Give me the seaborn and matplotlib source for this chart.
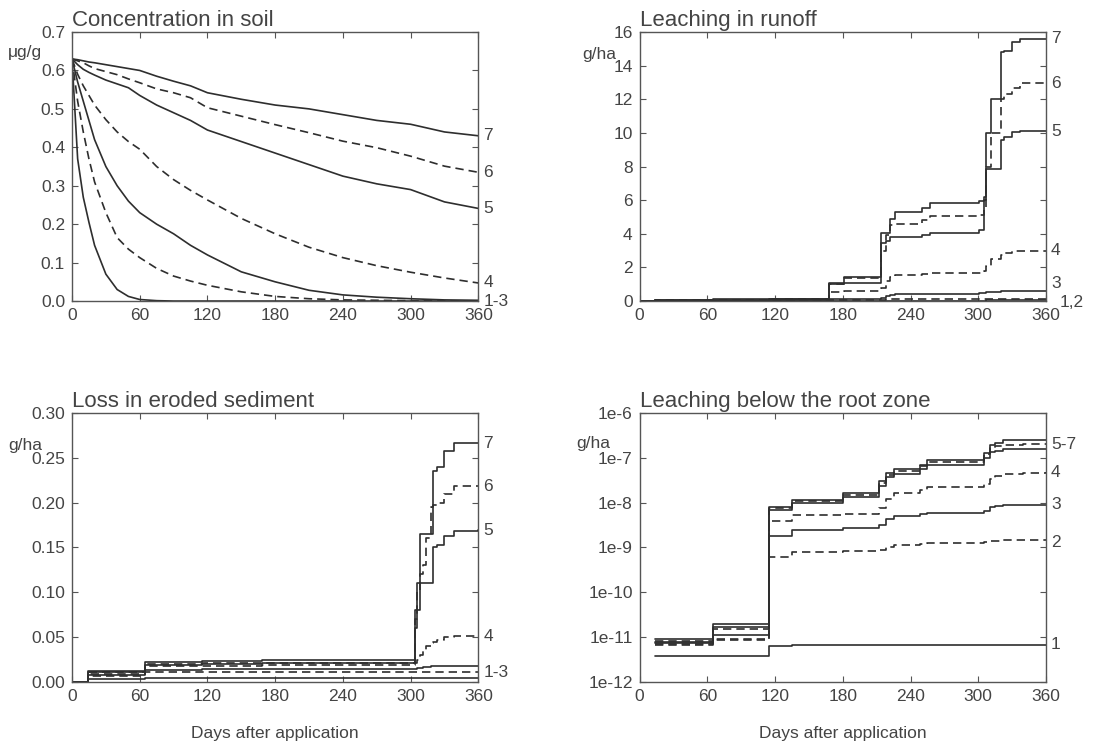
import matplotlib
matplotlib.use("Agg")
import matplotlib.pyplot as plt
import matplotlib.transforms as mtransforms
from matplotlib.ticker import FuncFormatter, FixedLocator, NullLocator
import numpy as np
import pandas as pd
import seaborn as sns

# --- Concentration in soil (ug/g), smooth decay curves ---
soil_days = [0, 5, 10, 15, 20, 30, 40, 50, 60, 75, 90, 105, 120, 150, 180, 210, 240, 270, 300, 330, 360]
soil = {
    "1": [0.63, 0.37, 0.27, 0.205, 0.145, 0.07, 0.03, 0.012, 0.004, 0.001, 0, 0, 0, 0, 0, 0, 0, 0, 0, 0, 0],
    "2": [0.63, 0.52, 0.44, 0.37, 0.31, 0.23, 0.165, 0.135, 0.113, 0.085, 0.065, 0.052, 0.041, 0.024, 0.012,
          0.006, 0.003, 0.002, 0.001, 0.0005, 0.0],
    "3": [0.63, 0.57, 0.52, 0.47, 0.42, 0.35, 0.30, 0.26, 0.23, 0.20, 0.175, 0.145, 0.12, 0.076, 0.05,
          0.028, 0.016, 0.01, 0.006, 0.003, 0.002],
    "4": [0.63, 0.59, 0.56, 0.535, 0.51, 0.472, 0.44, 0.415, 0.395, 0.35, 0.316, 0.288, 0.263, 0.215, 0.175,
          0.14, 0.113, 0.092, 0.075, 0.06, 0.047],
    "5": [0.63, 0.615, 0.603, 0.595, 0.588, 0.575, 0.565, 0.555, 0.535, 0.51, 0.49, 0.47, 0.445, 0.415, 0.385,
          0.355, 0.325, 0.305, 0.29, 0.258, 0.241],
    "6": [0.63, 0.625, 0.62, 0.612, 0.605, 0.597, 0.589, 0.578, 0.568, 0.552, 0.542, 0.529, 0.503, 0.481, 0.459,
          0.438, 0.416, 0.399, 0.377, 0.351, 0.335],
    "7": [0.63, 0.628, 0.625, 0.622, 0.62, 0.615, 0.61, 0.605, 0.60, 0.585, 0.572, 0.56, 0.542, 0.525, 0.51,
          0.50, 0.485, 0.47, 0.46, 0.44, 0.43],
}

# --- Leaching in runoff (g/ha), cumulative steps ---
runoff_days = [0, 14, 65, 115, 168, 181, 214, 218, 222, 226, 250, 257, 301, 305, 307, 311, 320, 323, 330, 337, 360]
runoff = {
    "1": [0, 0, 0.01, 0.01, 0.02, 0.02, 0.03, 0.03, 0.03, 0.03, 0.03, 0.03, 0.03, 0.03, 0.04, 0.04, 0.04, 0.04, 0.04, 0.04, 0.04],
    "2": [0, 0.01, 0.02, 0.03, 0.06, 0.07, 0.09, 0.10, 0.10, 0.11, 0.11, 0.11, 0.11, 0.12, 0.13, 0.14, 0.15, 0.15, 0.15, 0.15, 0.15],
    "3": [0, 0.01, 0.03, 0.05, 0.12, 0.13, 0.20, 0.30, 0.35, 0.40, 0.42, 0.43, 0.45, 0.48, 0.52, 0.55, 0.58, 0.60, 0.60, 0.60, 0.60],
    "4": [0, 0.02, 0.05, 0.07, 0.55, 0.60, 0.80, 1.20, 1.45, 1.55, 1.60, 1.65, 1.65, 1.80, 2.10, 2.50, 2.75, 2.85, 2.95, 3.0, 3.0],
    "5": [0, 0.04, 0.08, 0.12, 1.00, 1.10, 3.48, 3.60, 3.78, 3.78, 3.95, 4.07, 4.20, 6.00, 7.85, 7.85, 9.60, 9.75, 10.04, 10.10, 10.10],
    "6": [0, 0.04, 0.09, 0.13, 1.00, 1.35, 3.00, 3.90, 4.50, 4.57, 4.80, 5.05, 5.10, 5.45, 8.0, 10.0, 12.0, 12.3, 12.7, 12.95, 12.95],
    "7": [0, 0.05, 0.10, 0.15, 1.10, 1.45, 4.05, 4.05, 4.90, 5.27, 5.55, 5.85, 5.95, 6.20, 10.0, 12.0, 14.8, 14.9, 15.4, 15.6, 15.6],
}

# --- Loss in eroded sediment (g/ha) ---
sediment_days = [0, 14, 65, 115, 168, 304, 306, 308, 311, 314, 318, 320, 323, 330, 338, 360]
sediment = {
    "1": [0, 0.003, 0.004, 0.004, 0.004, 0.004, 0.004, 0.004, 0.004, 0.004, 0.004, 0.004, 0.004, 0.004, 0.004, 0.004],
    "2": [0, 0.007, 0.011, 0.011, 0.011, 0.011, 0.011, 0.011, 0.011, 0.011, 0.011, 0.011, 0.011, 0.011, 0.011, 0.011],
    "3": [0, 0.008, 0.013, 0.014, 0.015, 0.015, 0.016, 0.016, 0.017, 0.017, 0.018, 0.018, 0.018, 0.018, 0.018, 0.018],
    "4": [0, 0.009, 0.018, 0.018, 0.019, 0.021, 0.025, 0.030, 0.035, 0.040, 0.043, 0.045, 0.047, 0.050, 0.051, 0.051],
    "5": [0, 0.011, 0.019, 0.020, 0.021, 0.060, 0.080, 0.110, 0.110, 0.110, 0.110, 0.150, 0.153, 0.163, 0.168, 0.169],
    "6": [0, 0.011, 0.020, 0.021, 0.021, 0.070, 0.100, 0.120, 0.130, 0.160, 0.195, 0.197, 0.200, 0.210, 0.218, 0.218],
    "7": [0, 0.012, 0.022, 0.023, 0.025, 0.080, 0.110, 0.165, 0.165, 0.165, 0.165, 0.235, 0.240, 0.258, 0.266, 0.266],
}

# --- Leaching below the root zone (g/ha, log scale) ---
root_days = [14, 65, 115, 135, 180, 212, 218, 225, 248, 255, 305, 310, 315, 322, 340, 360]
root = {
    "1": [3.7e-12, 3.7e-12, 6.4e-12, 6.8e-12, 6.8e-12, 6.8e-12, 6.8e-12, 6.8e-12, 6.8e-12, 6.8e-12,
          6.8e-12, 6.8e-12, 6.8e-12, 6.8e-12, 6.8e-12, 6.8e-12],
    "2": [6.6e-12, 8.5e-12, 6.2e-10, 8.0e-10, 8.4e-10, 9.0e-10, 1.05e-9, 1.15e-9, 1.2e-9, 1.27e-9,
          1.32e-9, 1.40e-9, 1.43e-9, 1.45e-9, 1.45e-9, 1.45e-9],
    "3": [7.5e-12, 1.1e-11, 1.8e-9, 2.4e-9, 2.7e-9, 3.2e-9, 4.4e-9, 5.0e-9, 5.5e-9, 6.0e-9,
          6.5e-9, 7.8e-9, 8.3e-9, 8.8e-9, 9.0e-9, 9.0e-9],
    "4": [7.0e-12, 9.2e-12, 3.9e-9, 5.3e-9, 5.6e-9, 7.5e-9, 1.2e-8, 1.6e-8, 1.9e-8, 2.2e-8,
          2.6e-8, 3.4e-8, 3.9e-8, 4.3e-8, 4.6e-8, 4.7e-8],
    "5": [7.6e-12, 1.7e-11, 6.8e-9, 1.0e-8, 1.35e-8, 2.4e-8, 3.8e-8, 4.3e-8, 5.5e-8, 6.8e-8,
          1.0e-7, 1.35e-7, 1.45e-7, 1.55e-7, 1.6e-7, 1.6e-7],
    "6": [8.2e-12, 1.5e-11, 7.4e-9, 1.1e-8, 1.5e-8, 2.7e-8, 4.2e-8, 5.2e-8, 6.5e-8, 7.9e-8,
          1.2e-7, 1.65e-7, 1.8e-7, 1.95e-7, 2.0e-7, 2.0e-7],
    "7": [9.3e-12, 2.0e-11, 8.0e-9, 1.15e-8, 1.6e-8, 3.0e-8, 4.5e-8, 5.7e-8, 7.0e-8, 8.8e-8,
          1.3e-7, 1.9e-7, 2.1e-7, 2.45e-7, 2.5e-7, 2.5e-7],
}

# end-of-line labels: (text, series whose last value anchors it)
soil_labels = [("7", "7"), ("6", "6"), ("5", "5"), ("4", "4"), ("1-3", "2")]
runoff_labels = [("7", "7"), ("6", "6"), ("5", "5"), ("4", "4"), ("3", "3"), ("1,2", "1")]
sediment_labels = [("7", "7"), ("6", "6"), ("5", "5"), ("4", "4"), ("1-3", "2")]
root_labels = [("5-7", "6"), ("4", "4"), ("3", "3"), ("2", "2"), ("1", "1")]

LINE = "#2e2e2e"
TEXT = "#444444"
SERIES = [str(i) for i in range(1, 8)]


def long_frame(days, series):
    rows = []
    for name, vals in series.items():
        for d, v in zip(days, vals):
            rows.append({"day": d, "value": v, "series": name})
    return pd.DataFrame(rows)


def draw_panel(ax, days, series, labels, title, unit, unit_pos, steps, fmt,
               label_offsets=None, label_dx=None):
    df = long_frame(days, series)
    palette = {s: LINE for s in SERIES}
    dashes = {s: ("" if int(s) % 2 else (5, 3)) for s in SERIES}
    sns.lineplot(data=df, x="day", y="value", hue="series", style="series",
                 palette=palette, dashes=dashes, estimator=None, legend=False,
                 linewidth=1.2, drawstyle="steps-post" if steps else "default", ax=ax)

    ax.set_xlim(0, 360)
    ax.set_xticks(range(0, 361, 60))
    ax.set_xlabel("")
    ax.set_ylabel("")
    ax.yaxis.set_major_formatter(FuncFormatter(fmt))
    ax.set_title(title, loc="left", fontsize=16, color=TEXT, pad=4)
    ax.text(unit_pos[0], unit_pos[1], unit, transform=ax.transAxes, ha="left", va="center",
            fontsize=12.5, color=TEXT)

    trans = mtransforms.blended_transform_factory(ax.transAxes, ax.transData)
    offsets = label_offsets or {}
    dx = label_dx or {}
    for text, key in labels:
        y = series[key][-1]
        if ax.get_yscale() == "log":
            y = y * offsets.get(text, 1.0)
        else:
            y = y + offsets.get(text, 0.0)
        ax.text(1.012 + dx.get(text, 0.0), y, text, transform=trans, ha="left", va="center",
                fontsize=12.5, color=TEXT)

    ax.tick_params(direction="in", top=True, right=True, length=4, width=0.8,
                   colors="#555555", labelcolor=TEXT, labelsize=12.5, pad=5)
    for sp in ax.spines.values():
        sp.set_color("#555555")
        sp.set_linewidth(1.0)


sns.set_style("ticks")
plt.rcParams["font.family"] = ["Liberation Sans", "DejaVu Sans"]

fig, axes = plt.subplots(2, 2, figsize=(11.18, 7.5), dpi=100)
fig.subplots_adjust(left=0.0644, right=0.9356, top=0.9573, bottom=0.0907, wspace=0.397, hspace=0.416)

ax = axes[0, 0]
ax.set_ylim(0, 0.7)
ax.set_yticks(np.arange(0, 0.71, 0.1))
draw_panel(ax, soil_days, soil, soil_labels, "Concentration in soil", "\u03bcg/g", (-0.158, 0.925),
           False, lambda v, p: f"{v:.1f}")
ax.set_ylim(0, 0.7)

ax = axes[0, 1]
ax.set_ylim(0, 16)
ax.set_yticks(range(0, 17, 2))
draw_panel(ax, runoff_days, runoff, runoff_labels, "Leaching in runoff", "g/ha", (-0.142, 0.915),
           True, lambda v, p: f"{v:.0f}", {"1,2": -0.12, "3": 0.42}, {"1,2": 0.022})
ax.set_ylim(0, 16)

ax = axes[1, 0]
ax.set_ylim(0, 0.30)
ax.set_yticks(np.arange(0, 0.301, 0.05))
draw_panel(ax, sediment_days, sediment, sediment_labels, "Loss in eroded sediment", "g/ha", (-0.158, 0.88),
           True, lambda v, p: f"{v:.2f}")
ax.set_ylim(0, 0.30)
ax.set_xlabel("Days after application", fontsize=12.5, color=TEXT, labelpad=16)

ax = axes[1, 1]
ax.set_yscale("log")
draw_panel(ax, root_days, root, root_labels, "Leaching below the root zone", "g/ha", (-0.155, 0.885),
           True, lambda v, p: f"1e{int(round(np.log10(v)))}", {"2": 0.9})
ax.set_ylim(1e-12, 1e-6)
ax.yaxis.set_major_locator(FixedLocator([1e-12, 1e-11, 1e-10, 1e-9, 1e-8, 1e-7, 1e-6]))
ax.yaxis.set_minor_locator(NullLocator())
ax.set_xlabel("Days after application", fontsize=12.5, color=TEXT, labelpad=16)

fig.savefig("out.png", dpi=100)
